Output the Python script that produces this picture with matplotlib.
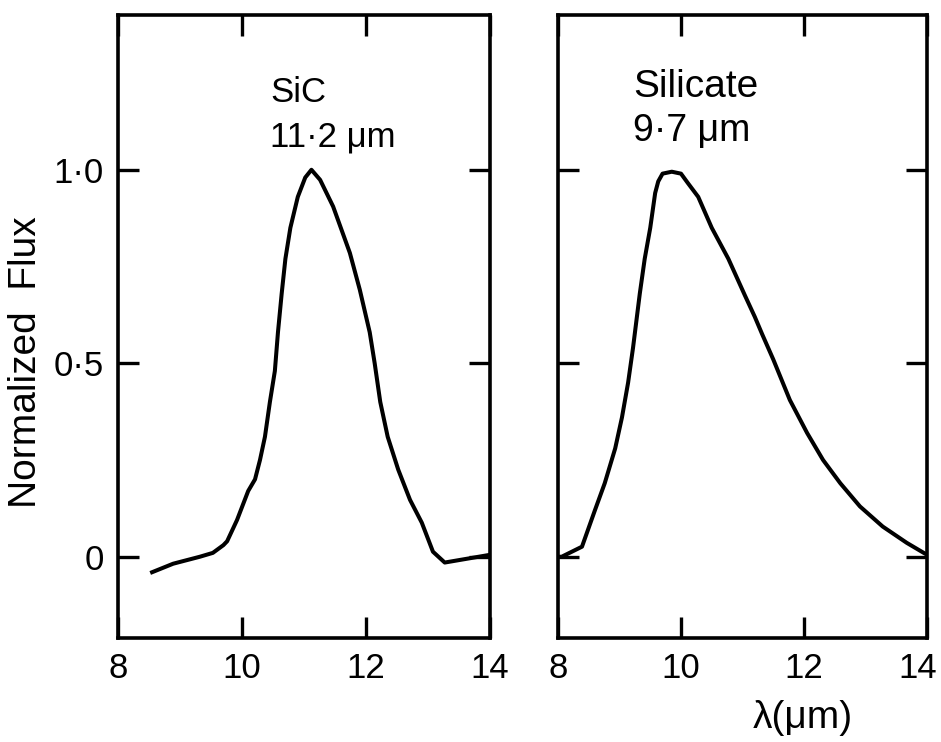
import matplotlib
matplotlib.use("Agg")
import matplotlib.pyplot as plt
import matplotlib.transforms as mtransforms
from matplotlib import font_manager

# narrow font to get closer to the typeset look of the original figure
names = {f.name for f in font_manager.fontManager.ttflist}
if 'Liberation Sans Narrow' in names:
    plt.rcParams['font.family'] = ['Liberation Sans Narrow', 'DejaVu Sans']
else:
    plt.rcParams['font.family'] = ['Liberation Sans', 'DejaVu Sans']

# SiC 11.2 um feature
sic_wave = [8.55, 8.89, 9.32, 9.53, 9.7, 9.76, 9.92, 10.1, 10.21, 10.29, 10.37,
            10.45, 10.53, 10.58, 10.64, 10.70, 10.78, 10.9, 11.02, 11.12, 11.26,
            11.47, 11.74, 11.9, 12.06, 12.14, 12.23, 12.35, 12.52, 12.71, 12.9,
            13.08, 13.27, 14.0]
sic_flux = [-0.04, -0.018, 0.0, 0.01, 0.03, 0.04, 0.095, 0.17, 0.2, 0.25, 0.31,
            0.40, 0.48, 0.58, 0.68, 0.77, 0.85, 0.93, 0.98, 1.0, 0.974,
            0.905, 0.785, 0.69, 0.58, 0.50, 0.40, 0.31, 0.225, 0.147, 0.088,
            0.013, -0.015, 0.005]

# Silicate 9.7 um feature
sil_wave = [8.0, 8.06, 8.39, 8.6, 8.76, 8.93, 9.04, 9.14, 9.22, 9.33, 9.41, 9.5,
            9.58, 9.63, 9.7, 9.85, 10.0, 10.11, 10.28, 10.5, 10.77, 11.04, 11.2,
            11.32, 11.5, 11.77, 12.05, 12.31, 12.59, 12.91, 13.28, 13.67, 14.0]
sil_flux = [0.0, 0.0, 0.026, 0.12, 0.19, 0.28, 0.36, 0.45, 0.54, 0.68, 0.77, 0.85,
            0.94, 0.97, 0.99, 0.995, 0.99, 0.966, 0.93, 0.85, 0.77, 0.675, 0.62,
            0.575, 0.51, 0.405, 0.32, 0.25, 0.19, 0.13, 0.078, 0.036, 0.005]

xticks = [8, 10, 12, 14]
yticks = [0, 0.5, 1.0]
ytick_labels = ["0", "0\u00b75", "1\u00b70"]

W, H = 941, 742
fig = plt.figure(figsize=(W / 100, H / 100), dpi=100)

def px_axes(left, right, top, bottom):
    return fig.add_axes([left / W, 1 - bottom / H, (right - left) / W, (bottom - top) / H])

ax1 = px_axes(118, 490, 15, 638)
ax2 = px_axes(558, 927, 15, 638)

for ax in (ax1, ax2):
    ax.set_xlim(8, 14)
    ax.set_ylim(-0.21, 1.40)
    ax.set_xticks(xticks)
    ax.set_xticklabels([str(t) for t in xticks])
    ax.set_yticks(yticks)
    ax.tick_params(direction='in', top=True, right=True, length=15, width=2.4,
                   labelsize=25, pad=10, colors='black')
    for sp in ax.spines.values():
        sp.set_linewidth(2.6)

ax1.set_yticklabels(ytick_labels)
ax2.set_yticklabels([])

# pull the last "14" label inside the canvas
shift = mtransforms.ScaledTranslation(-9 / 100, 0, fig.dpi_scale_trans)
last = ax2.get_xticklabels()[-1]
last.set_transform(last.get_transform() + shift)

ax1.plot(sic_wave, sic_flux, color='black', lw=2.9, solid_joinstyle='round')
ax2.plot(sil_wave, sil_flux, color='black', lw=2.9, solid_joinstyle='round')

ax1.text(10.45, 1.20, "SiC", fontsize=25, va='center', ha='left')
ax1.text(10.45, 1.085, "11\u00b72 \u03bcm", fontsize=25, va='center', ha='left')
ax2.text(9.22, 1.215, "Silicate", fontsize=28, va='center', ha='left')
ax2.text(9.22, 1.10, "9\u00b77 \u03bcm", fontsize=27, va='center', ha='left')

fig.text(26 / W, 1 - 362 / H, "Normalized  Flux", rotation=90, fontsize=28,
         ha='center', va='center')
fig.text(803 / W, 1 - 718 / H, "\u03bb(\u03bcm)", fontsize=28, ha='center', va='center')

fig.savefig("out.png", dpi=100)
